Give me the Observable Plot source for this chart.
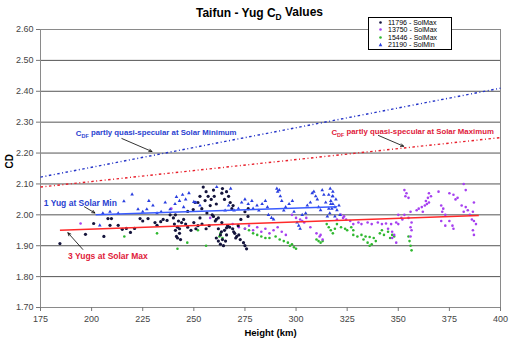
<!DOCTYPE html>
<html><head><meta charset="utf-8">
<script src="https://cdn.jsdelivr.net/npm/d3@7"></script>
<script src="https://cdn.jsdelivr.net/npm/@observablehq/plot@0.6"></script>
<style>
body{margin:0;background:#fff;font-family:Arial,"Liberation Sans",sans-serif;}
#wrap{position:relative;width:511px;height:343px;overflow:hidden;}
#legend{position:absolute;left:368px;top:17px;width:82px;border:1px solid #000;background:#fff;font-size:7px;line-height:7.3px;padding:1px 0 1px 0;color:#000;}
#legend div{display:flex;align-items:center;height:7.3px;}
#legend svg{margin-left:9px;margin-right:5px;}
</style></head><body><div id="wrap"></div>
<script>
// ---------- data ----------
const title = "Taifun - Yug C_D Values";
const xLabel = "Height (km)";
const yLabel = "CD";
const xTicks = [175,200,225,250,275,300,325,350,375,400];
const yTicks = [1.70,1.80,1.90,2.00,2.10,2.20,2.30,2.40,2.50,2.60];

const seriesNames = ["11796 - SolMax","13750 - SolMax","15446 - SolMax","21190 - SolMin"];
const seriesColors = ["#14143c","#a640f0","#2fb82f","#2a3fe0"];
const seriesSymbols = ["circle","circle","circle","triangle"];

const s11796_h = [184.5,197,201,206,208,209.7,209,213,215,217,219,221,223.7,225,227.6,231,232,233.8,235,236.9,238.4,
 240,240.5,241,241.5,242,242.5,243,243.5,244,241,242,243,247,249.7,250.6,248.6,246,
 254.6,257,255.5,258,253.9,259.6,260,256.4,259,253,252,256,258.5,261,263.7,265,267,267.8,268.6,269.2,264,266,
 259.6,261,263.7,262,260.5,262,263,261,262,263,264.5,265.5,266,265,266,263.5,264,
 266.5,267.5,269,270,271,272.7,274.3,275,275.8,270.5,272,269.5,271.7,273,275,276.6,276.5,
 245,247,250,251,252,254,256,257.5,253];
const s11796_cd = [1.907,1.937,1.972,1.930,1.988,1.988,1.966,1.966,1.953,1.956,1.943,1.956,1.988,1.980,1.988,1.975,1.966,1.978,1.985,1.982,2.000,
 1.99,1.97,1.95,1.93,1.96,1.98,1.94,1.92,1.975,2.00,1.925,1.955,2.011,2.017,2.040,1.950,1.97,
 2.09,2.06,2.046,2.03,2.02,2.08,2.06,2.006,2.00,2.06,2.04,2.075,2.05,2.035,2.07,2.05,2.06,2.04,2.02,2.03,2.085,2.075,
 1.995,1.985,1.975,1.99,1.98,1.955,1.935,1.925,1.915,1.905,1.90,1.915,1.935,1.95,1.958,1.945,1.92,
 1.965,1.96,1.955,1.94,1.93,1.92,1.91,1.90,1.89,1.925,1.935,1.945,1.965,1.985,2.01,2.02,1.995,
 1.985,1.96,1.975,1.955,1.965,1.97,1.955,1.965,1.99];

const s13750_h = [194.6,239,258,269,272,275,277,279,281,283,285,287,289,291,293,295,298,300,302,304,305,303,
 307,310,311.5,313,312,320,322,323,324.5,323.5,326.5,328,330.5,332,335,337,340,342,344,346.5,349,350,
 345,347,348,349,347,350,351.5,353,355,352,356,353,354,353.5,355,356.5,356,356.5,356,
 359,360,361.5,363,364,365,362,365,366,364.5,363.5,369.7,371,372,371.5,373,371,373,
 375,377,378,379,375,376.5,377,382,383,381,383,384,382,385,387,386.5,386,387,388,386.5,387];
const s13750_cd = [1.972,2.02,1.99,1.97,1.96,1.955,1.965,1.95,1.96,1.945,1.955,1.94,1.95,1.96,1.945,1.935,2.00,1.99,1.985,1.975,1.99,1.98,
 1.96,1.94,1.93,1.92,1.935,1.985,2.00,1.99,1.985,1.995,1.98,1.97,1.975,1.97,1.975,1.97,1.975,1.97,1.972,1.97,1.975,1.97,
 1.955,1.945,1.935,1.91,1.925,2.00,1.99,2.00,1.99,1.985,2.01,2.08,2.07,2.06,2.055,1.975,1.96,1.95,1.93,
 2.015,2.02,2.025,2.03,2.035,2.04,2.01,2.07,2.06,2.055,2.045,2.075,2.03,2.02,2.01,2.00,1.98,1.965,
 2.07,2.065,2.05,2.055,1.98,1.965,1.955,2.10,2.08,2.03,2.025,2.015,2.01,2.00,2.04,2.01,1.985,1.98,1.97,1.95,1.935];

const s15446_h = [216,232,246.8,242,252,256,263,264,262.5,275,277,279,281,283,285,287,290,292,294,296,298,299,300,297,
 310,311,312,313,315,316,317,318,319,320,322,324,325,327,328,328,330,332,334,336,338,333,335,337,336,339,
 341,343,345,347,342,346,348,355,355.5,356,356.5];
const s15446_cd = [1.93,1.94,1.91,1.89,1.95,1.90,1.94,1.925,1.93,1.955,1.95,1.94,1.935,1.93,1.925,1.925,1.93,1.92,1.915,1.91,1.905,1.895,1.89,1.90,
 1.92,1.915,1.91,1.915,1.97,1.96,1.95,1.94,1.955,1.97,1.96,1.955,1.95,1.96,1.95,1.935,1.93,1.935,1.93,1.928,1.925,1.92,1.91,1.905,1.90,1.915,
 1.94,1.935,1.945,1.935,1.95,1.925,1.93,1.93,1.915,1.90,1.885];

const s21190_h = [205.5,209,213,204,215.8,219.8,222.7,227,232,238.4,240.8,241.5,243,244.5,246,247.6,250,245,230,234,236,228,225,
 251,253,261.2,265.3,267,269.7,271.8,273.4,275,276.6,278.4,279,280.9,281.8,283.4,285,286,286.5,288,289,268,
 290.6,291,291.8,292.3,293,294,294.9,296.6,298.2,299,300.5,301.3,302,303,304.7,305.5,307,307.9,308.7,309.6,310.4,311,312,312.8,313.6,314.5,315.3,316,317,317.8,
 316.7,318,316,318,319.5,317,318,319,317.5,320,316.5,319,321,321.5];
const s21190_cd = [2.005,2.010,2.005,1.966,2.044,2.066,2.018,2.018,2.005,2.018,2.035,2.058,2.045,2.065,2.05,2.07,2.042,2.025,2.03,2.01,2.04,2.045,2.01,
 2.04,2.03,2.09,2.014,2.03,2.014,2.02,2.04,2.05,2.035,2.045,2.02,2.03,2.014,2.035,2.045,2.025,2.00,1.99,1.985,2.085,
 2.085,2.075,2.08,2.06,2.045,2.014,2.025,2.035,2.045,2.01,1.975,1.965,1.955,2.00,2.005,2.03,2.04,2.07,2.075,2.06,2.05,2.025,2.015,2.08,2.065,2.04,1.995,2.02,2.035,2.06,
 2.085,2.075,2.065,2.06,2.05,2.045,2.035,2.025,2.02,2.015,2.005,1.995,2.03,2.00];

// trend / model lines (end points)
const lineNames = ["CDF Solar Minimum","CDF Solar Maximum","1 Yug at Solar Min","3 Yugs at Solar Max"];
const lineX1 = [175,175,202,184.5];
const lineY1 = [2.122,2.09,2.000,1.950];
const lineX2 = [400,400,320,389.4];
const lineY2 = [2.41,2.25,2.026,1.998];
const lineColors = ["#2434c8","#e8202c","#3a5cff","#ff2a2a"];

// annotations
const noteTexts = ["C_DF partly quasi-specular at Solar Minimum","C_DF partly quasi-specular at Solar Maximum","1 Yug at Solar Min","3 Yugs at Solar Max"];
const noteX = [192.3,317.3,176.6,188.5];
const noteY = [2.263,2.267,2.037,1.866];
const noteColors = ["#2a3fd0","#e0203a","#2a3fd0","#e0203a"];
const arrowX1 = [214.8,340.3,196.5,195.7];
const arrowY1 = [2.247,2.257,2.026,1.888];
const arrowX2 = [229.5,352.6,201.6,188.4];
const arrowY2 = [2.205,2.222,2.006,1.942];

// ---------- build ----------
function pts(h, cd, s) { return h.map((v, i) => ({h: v, cd: cd[i], s})); }
const points = [
  ...pts(s11796_h, s11796_cd, 0),
  ...pts(s13750_h, s13750_cd, 1),
  ...pts(s15446_h, s15446_cd, 2),
  ...pts(s21190_h, s21190_cd, 3)
];
const lines = lineNames.map((n, i) => ({n, x1: lineX1[i], y1: lineY1[i], x2: lineX2[i], y2: lineY2[i], c: lineColors[i], i}));
const notes = noteTexts.map((t, i) => ({t, i, x: noteX[i], y: noteY[i], c: noteColors[i], ax1: arrowX1[i], ay1: arrowY1[i], ax2: arrowX2[i], ay2: arrowY2[i]}));

const font = "Arial, 'Liberation Sans', sans-serif";
const chart = Plot.plot({
  width: 511, height: 343,
  marginLeft: 40, marginRight: 11, marginTop: 29, marginBottom: 36,
  style: {fontFamily: font, fontSize: "9px", background: "white", color: "#333", overflow: "visible"},
  x: {domain: [175, 400]},
  y: {domain: [1.70, 2.60]},
  marks: [
    Plot.gridY(yTicks, {stroke: "#555", strokeOpacity: 1, strokeWidth: 1}),
    Plot.frame({stroke: "#8a8a8a"}),
    Plot.axisX(xTicks, {tickSize: 4, tickPadding: 4, label: null, stroke: "#777", fill: "#444", fontSize: 9}),
    Plot.axisY(yTicks, {tickSize: 4, tickPadding: 3, tickFormat: d3.format(".2f"), label: null, stroke: "#777", fill: "#444", fontSize: 9}),
    // dashed model lines
    Plot.link(lines.filter(d => d.i < 2), {x1: "x1", y1: "y1", x2: "x2", y2: "y2", stroke: "c", strokeWidth: 1.4, strokeDasharray: "2.5,2.5,1,2.5"}),
    // scatter
    Plot.dot(points.filter(d => d.s === 2), {x: "h", y: "cd", r: 1.3, fill: seriesColors[2], stroke: null}),
    Plot.dot(points.filter(d => d.s === 1), {x: "h", y: "cd", r: 1.3, fill: seriesColors[1], stroke: null}),
    Plot.dot(points.filter(d => d.s === 0), {x: "h", y: "cd", r: 1.6, fill: seriesColors[0], stroke: null}),
    Plot.dot(points.filter(d => d.s === 3), {x: "h", y: "cd", r: 1.35, symbol: "triangle", fill: seriesColors[3], stroke: null}),
    // trend lines
    Plot.link(lines.filter(d => d.i >= 2), {x1: "x1", y1: "y1", x2: "x2", y2: "y2", stroke: "c", strokeWidth: 1.5}),
    // annotations
    Plot.arrow(notes, {x1: "ax1", y1: "ay1", x2: "ax2", y2: "ay2", stroke: "#000", strokeWidth: 0.8, headLength: 6, headAngle: 50}),
    Plot.text(notes, {x: "x", y: "y", text: "t", fill: "c", textAnchor: "start", fontWeight: "bold", fontSize: d => d.i < 2 ? 7.8 : 8.5, fontFamily: font}),
    // title & axis labels
    Plot.text([title], {frameAnchor: "top", dy: -21, dx: -11, fontWeight: "bold", fontSize: 12, fill: "#000", fontFamily: font}),
    Plot.text([xLabel], {frameAnchor: "bottom", dy: 28, fontWeight: "bold", fontSize: 9.5, fill: "#000", fontFamily: font}),
    Plot.text([yLabel], {frameAnchor: "left", dx: -31, rotate: -90, fontWeight: "bold", fontSize: 10, fill: "#000", fontFamily: font})
  ]
});

// subscripts: "C_D" -> C with subscript D
d3.select(chart).selectAll("text").each(function() {
  const el = d3.select(this);
  if (this.querySelector("tspan")) return;
  const s = this.textContent;
  const m = s.match(/^(.*?)C_([A-Z]+)(.*)$/);
  if (!m) return;
  el.text(null);
  el.append("tspan").text(m[1] + "C");
  el.append("tspan").attr("dy", "0.3em").attr("font-size", "0.7em").text(m[2]);
  el.append("tspan").attr("dy", "-0.3em").text(m[3]);
});

const wrap = document.getElementById("wrap");
wrap.appendChild(chart);

// legend
const lg = document.createElement("div");
lg.id = "legend";
seriesNames.forEach((n, i) => {
  const row = document.createElement("div");
  const sym = seriesSymbols[i] === "triangle"
    ? `<polygon points="2.5,0.8 4.3,4.2 0.7,4.2" fill="${seriesColors[i]}"/>`
    : `<circle cx="2.5" cy="2.5" r="1.3" fill="${seriesColors[i]}"/>`;
  row.innerHTML = `<svg width="5" height="5">${sym}</svg><span>${n}</span>`;
  lg.appendChild(row);
});
wrap.appendChild(lg);
</script></body></html>
